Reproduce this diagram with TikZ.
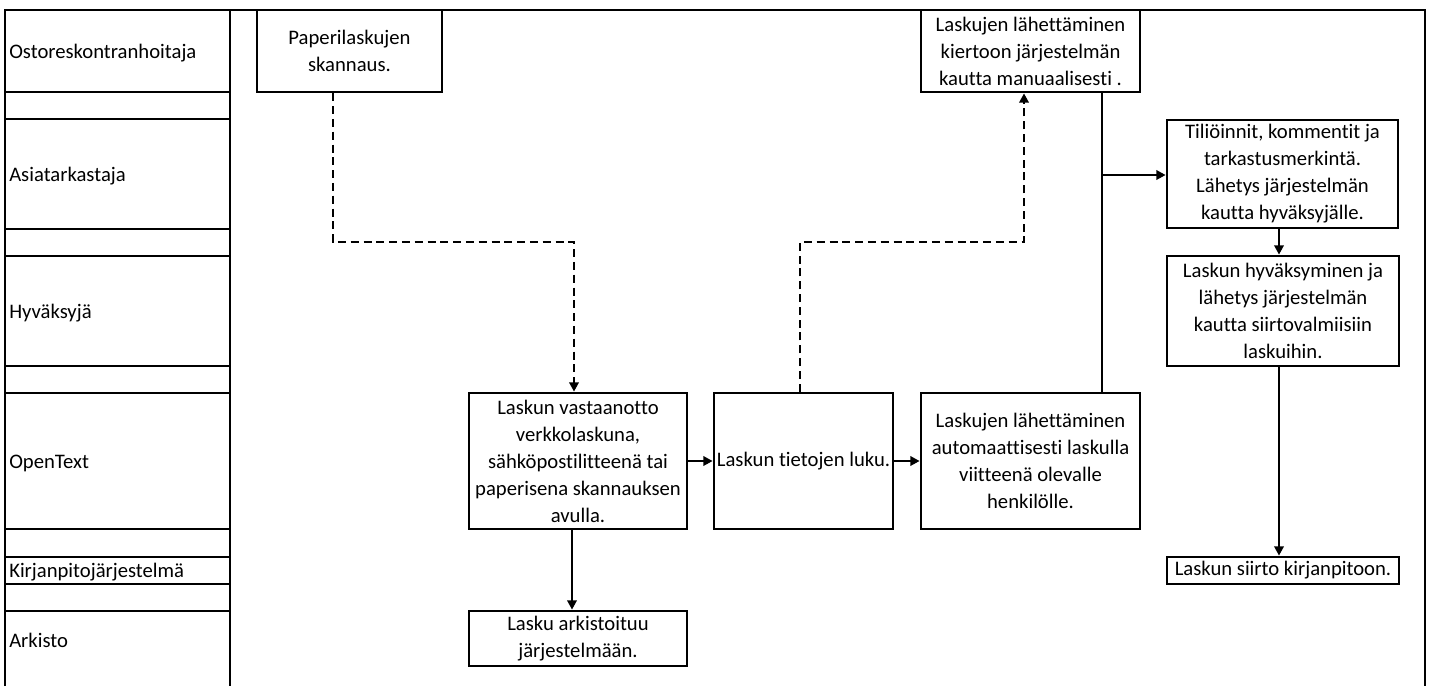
\documentclass[tikz,border=0pt]{standalone}
\usepackage{fontspec}
\setmainfont{Carlito}[Ligatures=NoCommon]
\usetikzlibrary{arrows.meta}
\tikzset{
  frame/.style={line width=2pt},
  box/.style={draw, line width=2pt, align=center, inner sep=0pt, fill=white,
    font=\fontsize{15.5}{20.25}\selectfont},
  lane/.style={anchor=west, inner sep=0pt, font=\fontsize{15.5}{20.25}\selectfont},
  conn/.style={line width=1.9pt, -{Triangle[length=7pt,width=7pt]}},
  plain/.style={line width=1.9pt},
  dconn/.style={line width=1.9pt, dash pattern=on 6pt off 3.6pt, -{Triangle[length=7pt,width=7pt]}},
}
\begin{document}
\begin{tikzpicture}[x=0.75pt,y=-0.75pt]
\useasboundingbox (0,0) rectangle (1431,686);
% frame
\draw[frame] (5,686) -- (5,10) -- (1425,10) -- (1425,686);
\draw[frame] (230,10) -- (230,686);
\foreach \yy in {92,119,229,256,366,393,529,557,584,611}
  \draw[frame] (5,\yy) -- (230,\yy);
% lane labels
\node[lane] (l1) at (9,53) {Ostoreskontranhoitaja};
\node[lane] (l2) at (9,176) {Asiatarkastaja};
\node[lane] (l3) at (9,313) {Hyväksyjä};
\node[lane] (l4) at (9,463) {OpenText};
\node[lane] (l5) at (9,572) {Kirjanpitojärjestelmä};
\node[lane] (l6) at (9,640) {Arkisto};
% boxes
\node[box, minimum width=138.75pt, minimum height=61.5pt] (pap) at (349.5,51)
  {Paperilaskujen\\skannaus.};
\node[box, minimum width=163.5pt, minimum height=102pt] (rec) at (578,461)
  {Laskun vastaanotto\\verkkolaskuna,\\sähköpostilitteenä tai\\paperisena skannauksen\\avulla.};
\node[box, minimum width=134.25pt, minimum height=102pt] (read) at (803.5,461)
  {Laskun tietojen luku.};
\node[box, minimum width=164.25pt, minimum height=102pt] (auto) at (1030.5,461)
  {Laskujen lähettäminen\\automaattisesti laskulla\\viitteenä olevalle\\henkilölle.};
\node[box, minimum width=164.25pt, minimum height=61.5pt] (man) at (1030.5,51)
  {Laskujen lähettäminen\\kiertoon järjestelmän\\kautta manuaalisesti .};
\node[box, minimum width=173.25pt, minimum height=81pt] (til) at (1282.5,174)
  {Tiliöinnit, kommentit ja\\tarkastusmerkintä.\\Lähetys järjestelmän\\kautta hyväksyjälle.};
\node[box, minimum width=174pt, minimum height=82.5pt] (hyv) at (1283,311)
  {Laskun hyväksyminen ja\\lähetys järjestelmän\\kautta siirtovalmiisiin\\laskuihin.};
\node[box, minimum width=174pt, minimum height=20.25pt] (kir) at (1283,570.5)
  {Laskun siirto kirjanpitoon.};
\node[box, minimum width=163.5pt, minimum height=41.25pt] (ark) at (578,638.5)
  {Lasku arkistoituu\\järjestelmään.};
% helper coordinates
\coordinate (p1) at (333,242);
\coordinate (p2) at (574,242);
\coordinate (q1) at (800,242);
\coordinate (q2) at (1024,242);
\coordinate (v) at (1102,175);
\coordinate (a1) at (572,0);
\coordinate (t1) at (1279,0);
% connectors
\draw[dconn] (pap.south -| p1) -- (p1) -- (p2) -- (rec.north -| p2);
\draw[dconn] (read.north -| q1) -- (q1) -- (q2) -- (man.south -| q2);
\draw[conn] (rec.east) -- (read.west);
\draw[conn] (read.east) -- (auto.west);
\draw[conn] (rec.south -| a1) -- (ark.north -| a1);
\draw[plain] (auto.north -| v) -- (man.south -| v);
\draw[conn] (v) -- (til.west |- v);
\draw[conn] (til.south -| t1) -- (hyv.north -| t1);
\draw[conn] (hyv.south -| t1) -- (kir.north -| t1);
\end{tikzpicture}
\end{document}
